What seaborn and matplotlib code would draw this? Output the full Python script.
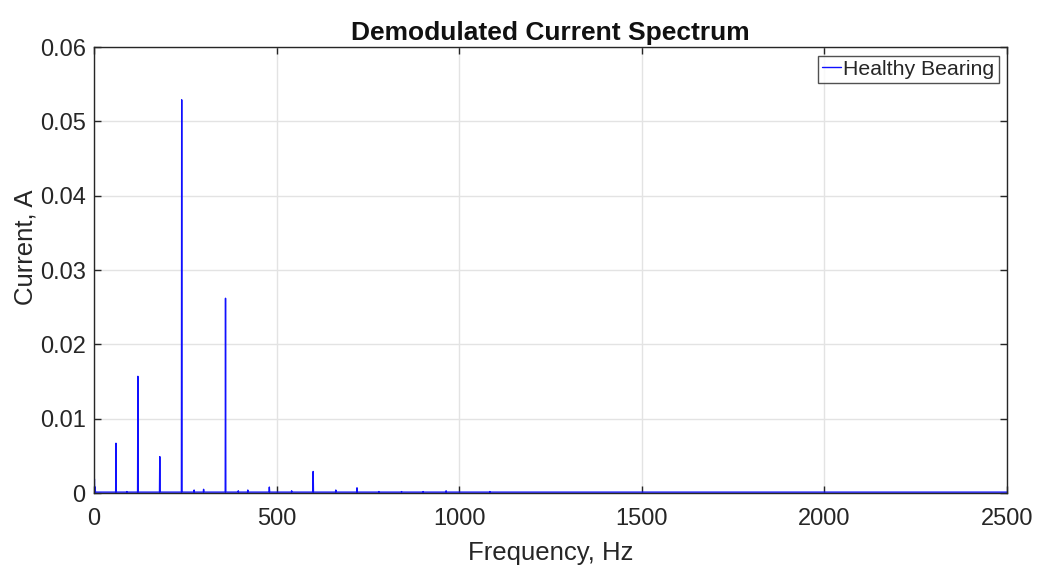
import numpy as np
import pandas as pd
import matplotlib
matplotlib.use("Agg")
import matplotlib.pyplot as plt
import seaborn as sns

# ---- data ----
peak_freqs = [1, 3, 60, 90, 120, 180, 240, 274, 300, 360, 395, 421, 480, 541, 600, 662, 720, 780, 842, 901, 964, 1084]
peak_amps = [0.0019, 0.0008, 0.0067, 0.0002, 0.0157, 0.0049, 0.0529, 0.0004, 0.0005, 0.0262, 0.0003, 0.0004, 0.0008,
             0.0003, 0.0029, 0.0004, 0.0007, 0.0002, 0.0002, 0.0002, 0.0003, 0.0002]
baseline_level = 0.00012
freq_range = [0, 2500]
series_name = "Healthy Bearing"
x_ticks = [0, 500, 1000, 1500, 2000, 2500]
y_ticks = [0, 0.01, 0.02, 0.03, 0.04, 0.05, 0.06]
y_tick_labels = ["0", "0.01", "0.02", "0.03", "0.04", "0.05", "0.06"]

# build spike spectrum from peaks
xs, ys = [freq_range[0]], [baseline_level]
for f, a in zip(peak_freqs, peak_amps):
    xs += [max(f - 0.8, 0), f, f + 0.8]
    ys += [baseline_level, a, baseline_level]
xs.append(freq_range[1])
ys.append(baseline_level)
df = pd.DataFrame({"Frequency": xs, "Current": ys, "series": series_name})

sns.set_theme(style="white")
plt.rcParams["font.family"] = ["Liberation Sans", "DejaVu Sans"]

fig = plt.figure(figsize=(10.38, 5.65), dpi=100)
ax = fig.add_axes([0.0906, 0.1274, 0.8796, 0.7894])

sns.lineplot(data=df, x="Frequency", y="Current", hue="series", palette=["#1010ff"],
             sort=False, estimator=None, linewidth=1.0, ax=ax)

ax.set_xlim(*freq_range)
ax.set_ylim(0, 0.06)
ax.set_xticks(x_ticks)
ax.set_yticks(y_ticks)
ax.set_yticklabels(y_tick_labels)
ax.grid(True, color="#e3e3e3", linewidth=1.0)
ax.set_axisbelow(True)
for s in ax.spines.values():
    s.set_color("#262626")
    s.set_linewidth(1.0)
    s.set_visible(True)
ax.tick_params(direction="in", length=5, width=1, color="#262626", labelcolor="#262626",
               labelsize=17, top=True, right=True, bottom=True, left=True, pad=6)
ax.tick_params(axis="x", pad=11)

ax.set_xlabel("Frequency, Hz", fontsize=18.5, color="#262626", labelpad=8)
ax.set_ylabel("Current, A", fontsize=18.5, color="#262626")
ax.yaxis.set_label_coords(-0.062, 0.55)
ax.set_title("Demodulated Current Spectrum", fontsize=19, fontweight="bold", color="#111111", pad=5)

leg = ax.legend(loc="upper right", fontsize=15.3, frameon=True, fancybox=False,
                handlelength=0.9, handletextpad=0.1, borderpad=0.2, borderaxespad=0.4)
leg.get_frame().set_edgecolor("#262626")
leg.get_frame().set_linewidth(1.0)

fig.savefig("out.png", dpi=100)
